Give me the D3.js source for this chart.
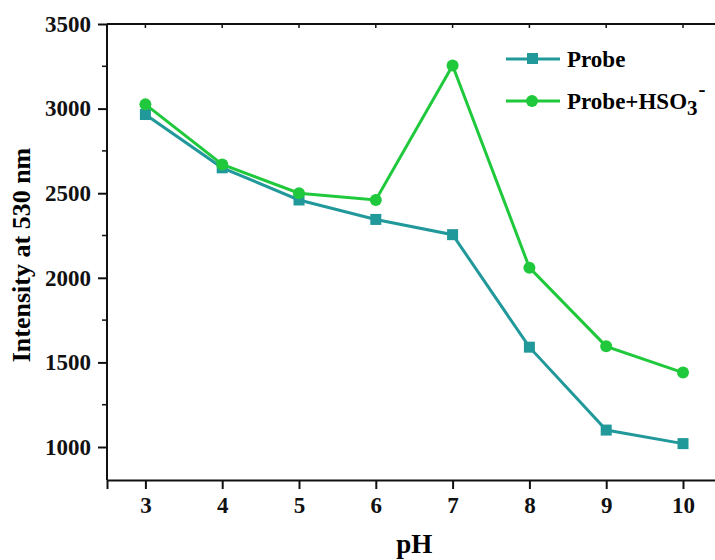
<!DOCTYPE html>
<html lang="en">
<head>
  <meta charset="UTF-8">
  <title>Intensity vs pH</title>
  <style>
    body { margin: 0; background: #fff; }
    text { font-family: "Liberation Serif", "Times New Roman", serif; font-weight: bold; }
  </style>
</head>
<body>
  <svg id="svg" width="715" height="560"></svg>

  <script src="https://d3js.org/d3.v7.min.js"></script>
  <script>
    const phValues = [3, 4, 5, 6, 7, 8, 9, 10]
    const probe = [2965, 2650, 2460, 2345, 2255, 1590, 1100, 1020]
    const probeHSO3 = [3025, 2670, 2500, 2460, 3255, 2060, 1595, 1440]
    const yTicks = [1000, 1500, 2000, 2500, 3000, 3500]

    const teal = '#21999a'
    const green = '#20c93c'

    const margin = { top: 24, left: 107, bottom: 80 }
    const height = 560 - margin.bottom

    const xscale = d3.scaleLinear()
      .domain([2.5, 10.5])
      .range([margin.left, margin.left + 8 * 76.8])

    const yscale = d3.scaleLinear()
      .domain([805, 3500])
      .range([height, margin.top])

    const svg = d3.select('#svg')

    // frame (top line)
    svg.append('line')
      .attr('x1', margin.left).attr('x2', 715)
      .attr('y1', margin.top).attr('y2', margin.top)
      .attr('stroke', '#111').attr('stroke-width', 2)

    // top ticks (inward)
    svg.append('g')
      .selectAll('line')
      .data(phValues)
      .enter()
      .append('line')
      .attr('x1', d => xscale(d)).attr('x2', d => xscale(d))
      .attr('y1', margin.top).attr('y2', margin.top + 4)
      .attr('stroke', '#111').attr('stroke-width', 1.5)

    // bottom axis
    const bottomAxis = d3.axisBottom(xscale)
      .tickValues(phValues)
      .tickSize(9)
      .tickPadding(8)
      .tickFormat(d3.format('d'))
    const gx = svg.append('g')
      .attr('transform', `translate(0, ${height})`)
      .call(bottomAxis)
    gx.select('.domain').attr('stroke', '#111').attr('stroke-width', 2)
    gx.selectAll('.tick line').attr('stroke', '#111').attr('stroke-width', 2)
    gx.selectAll('text')
      .attr('fill', '#111')
      .style('font-size', '23px')
      .style('font-family', '"Liberation Serif", serif').style('font-weight', 'bold')

    // left axis
    const leftAxis = d3.axisLeft(yscale)
      .tickValues(yTicks)
      .tickSize(9)
      .tickPadding(7)
      .tickSizeOuter(0)
      .tickFormat(d3.format('d'))
    const gy = svg.append('g')
      .attr('transform', `translate(${margin.left}, 0)`)
      .call(leftAxis)
    gy.select('.domain').attr('stroke', '#111').attr('stroke-width', 2)
      .attr('d', `M0,${height}V${margin.top}`)
    gy.selectAll('.tick line').attr('stroke', '#111').attr('stroke-width', 2)
    gy.selectAll('text')
      .attr('fill', '#111')
      .style('font-size', '23px')
      .style('font-family', '"Liberation Serif", serif').style('font-weight', 'bold')

    // minor ticks on y
    const minorY = d3.range(1250, 3500, 500)
    svg.append('g')
      .selectAll('line')
      .data(minorY)
      .enter()
      .append('line')
      .attr('x1', margin.left - 5).attr('x2', margin.left)
      .attr('y1', d => yscale(d)).attr('y2', d => yscale(d))
      .attr('stroke', '#111').attr('stroke-width', 1.5)

    // axis titles
    svg.append('text')
      .attr('x', xscale(6.5))
      .attr('y', 553)
      .attr('text-anchor', 'middle')
      .style('font-size', '27px')
      .text('pH')

    svg.append('text')
      .attr('transform', `translate(30, ${(145 + 365) / 2}) rotate(-90)`)
      .attr('text-anchor', 'middle')
      .style('font-size', '26px')
      .text('Intensity at 530 nm')

    const line = d3.line()
      .x((d, i) => xscale(phValues[i]))
      .y(d => yscale(d))

    // Probe series
    svg.append('path')
      .datum(probe)
      .attr('d', line)
      .attr('fill', 'none')
      .attr('stroke', teal)
      .attr('stroke-width', 3)
    svg.append('g')
      .selectAll('rect')
      .data(probe)
      .enter()
      .append('rect')
      .attr('x', (d, i) => xscale(phValues[i]) - 5.5)
      .attr('y', d => yscale(d) - 5.5)
      .attr('width', 11).attr('height', 11)
      .attr('fill', teal)

    // Probe+HSO3- series
    svg.append('path')
      .datum(probeHSO3)
      .attr('d', line)
      .attr('fill', 'none')
      .attr('stroke', green)
      .attr('stroke-width', 3)
    svg.append('g')
      .selectAll('circle')
      .data(probeHSO3)
      .enter()
      .append('circle')
      .attr('cx', (d, i) => xscale(phValues[i]))
      .attr('cy', d => yscale(d))
      .attr('r', 6)
      .attr('fill', green)

    // legend
    const legend = svg.append('g')
    legend.append('line')
      .attr('x1', 506).attr('x2', 560).attr('y1', 59).attr('y2', 59)
      .attr('stroke', teal).attr('stroke-width', 3)
    legend.append('rect')
      .attr('x', 527).attr('y', 53).attr('width', 11).attr('height', 11)
      .attr('fill', teal)
    legend.append('text')
      .attr('x', 567).attr('y', 67)
      .style('font-size', '23px')
      .text('Probe')

    legend.append('line')
      .attr('x1', 506).attr('x2', 560).attr('y1', 101).attr('y2', 101)
      .attr('stroke', green).attr('stroke-width', 3)
    legend.append('circle')
      .attr('cx', 532).attr('cy', 101).attr('r', 6)
      .attr('fill', green)
    const t2 = legend.append('text')
      .attr('x', 567).attr('y', 109)
      .style('font-size', '23px')
    t2.append('tspan').text('Probe+HSO')
    t2.append('tspan').attr('dy', 6).style('font-size', '21px').text('3')
    t2.append('tspan').attr('dy', -19).attr('dx', 1).style('font-size', '21px').text('-')
  </script>
</body>
</html>
